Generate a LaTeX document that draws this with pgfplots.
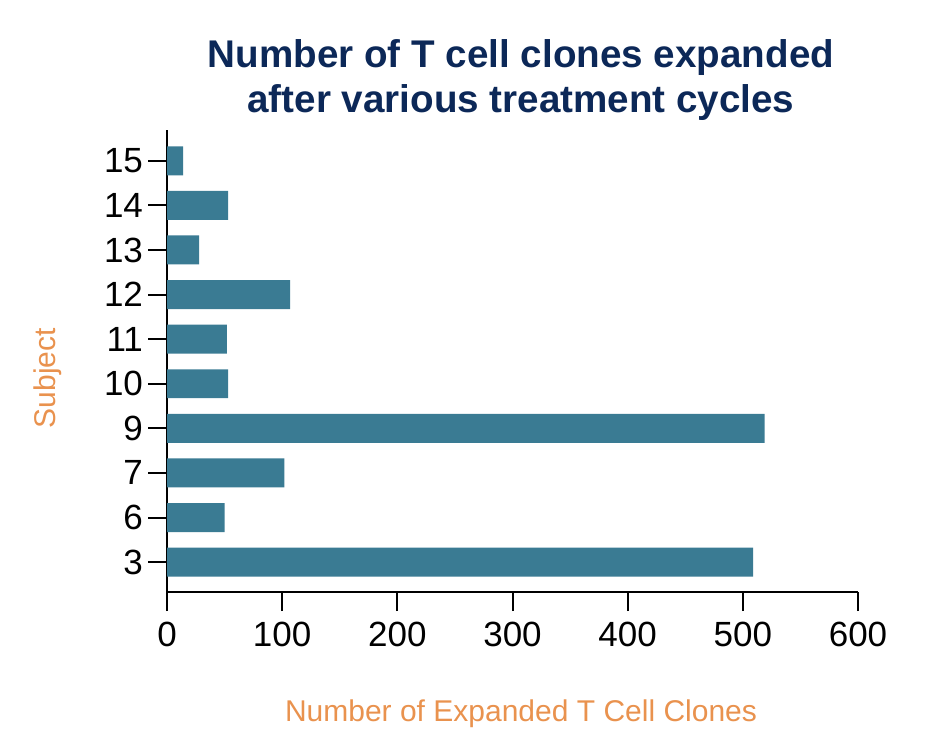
\documentclass[border=0pt]{standalone}
\usepackage{fontspec}
\setmainfont{Liberation Sans}
\usepackage{pgfplots}
\pgfplotsset{compat=1.18}
\definecolor{barteal}{RGB}{58,123,147}
\definecolor{titlenavy}{RGB}{12,40,88}
\definecolor{labelorange}{RGB}{233,146,78}

\begin{document}
\begin{tikzpicture}[x=1pt,y=1pt]
\path[use as bounding box] (0,0) rectangle (476,373);
\begin{axis}[
  at={(83.5pt,77pt)}, anchor=south west,
  scale only axis, width=345.5pt, height=231pt,
  xbar, bar width=0.65,
  xmin=0, xmax=600, ymin=-0.67, ymax=9.69,
  xtick={0,100,...,600},
  ytick={0,...,9},
  yticklabels={3,6,7,9,10,11,12,13,14,15},
  axis lines*=left,
  axis line style={line width=1pt, black},
  every tick/.style={black, line width=1pt},
  tick align=outside,
  major tick length=9.5pt,
  /pgf/number format/assume math mode=true,
  ticklabel style={font=\fontsize{17.5}{20}\selectfont},
  xticklabel style={yshift=-2pt},
  yticklabel style={xshift=1pt},
  clip=false,
]
\addplot[fill=barteal, draw=none] coordinates {
  (509,0) (50,1) (102,2) (519,3) (53,4) (52,5) (107,6) (28,7) (53,8) (14,9)
};
\end{axis}
\node[rotate=90, text=labelorange, font=\fontsize{15}{18}\selectfont] at (24,184) {Subject};
\node[text=labelorange, font=\fontsize{15}{18}\selectfont] at (260.5,16) {Number of Expanded T Cell Clones};
\node[text=titlenavy, align=center, font=\bfseries\fontsize{19.3}{22.5}\selectfont] at (260.5,333) {Number of T cell clones expanded\\after various treatment cycles};
\end{tikzpicture}
\end{document}
